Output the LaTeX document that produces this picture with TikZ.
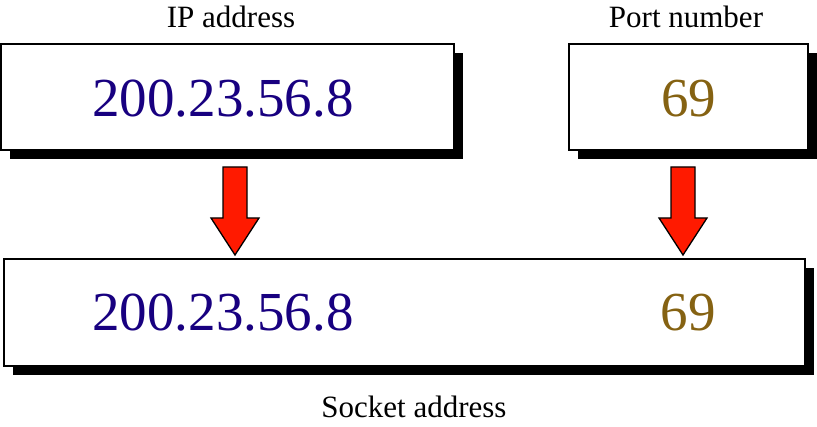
\documentclass[tikz,border=0pt]{standalone}
\usepackage{fontspec}
\setmainfont{Liberation Serif}
\usetikzlibrary{shadows}

\definecolor{ipblue}{RGB}{24,0,128}
\definecolor{portbrown}{RGB}{133,98,18}
\definecolor{arrowred}{RGB}{255,26,0}

\begin{document}
\begin{tikzpicture}[x=1pt,y=-1pt,
	addrbox/.style={draw=black,line width=1.3pt,fill=white,inner sep=0pt,
		drop shadow={shadow xshift=9pt,shadow yshift=-9pt,fill=black,opacity=1}},
	bignum/.style={font=\fontsize{55pt}{60pt}\selectfont,inner sep=0pt},
	caption/.style={font=\fontsize{31pt}{36pt}\selectfont,inner sep=0pt,anchor=base},
	blockarrow/.style={draw=black,line width=1.3pt,fill=arrowred,line join=miter}]
	\useasboundingbox (0,0) rectangle (817,427);

	% the two parts
	\node[addrbox,minimum width=453pt,minimum height=106pt] (ipbox) at (227.5,97) {};
	\node[bignum,text=ipblue] (ip) at (223,99) {200.23.56.8};
	\node[addrbox,minimum width=239pt,minimum height=106pt] (portbox) at (688.5,97) {};
	\node[bignum,text=portbrown] (port) at (688.5,99) {69};
	\node[caption] (iplabel) at (231,28) {IP address};
	\node[caption] (portlabel) at (686,28) {Port number};

	% the socket address
	\node[addrbox,minimum width=801pt,minimum height=107pt] (sockbox) at (404.5,312.5) {};
	\node[bignum,text=ipblue] (sockip) at (223,313) {200.23.56.8};
	\node[bignum,text=portbrown] (sockport) at (688,313) {69};
	\node[caption] (socklabel) at (414,418) {Socket address};

	% arrows
	\coordinate (iparrow) at (235,167);
	\coordinate (portarrow) at (683,167);
	\draw[blockarrow] (iparrow) -- ++(12,0) -- ++(0,51) -- ++(12,0) -- ++(-24,37)
		-- ++(-24,-37) -- ++(12,0) -- ++(0,-51) -- cycle;
	\draw[blockarrow] (portarrow) -- ++(12,0) -- ++(0,51) -- ++(12,0) -- ++(-24,37)
		-- ++(-24,-37) -- ++(12,0) -- ++(0,-51) -- cycle;
\end{tikzpicture}
\end{document}
